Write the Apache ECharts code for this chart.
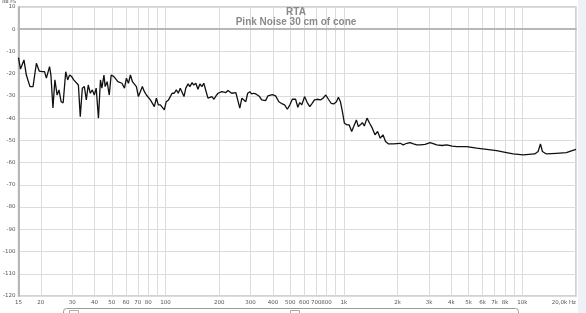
<!DOCTYPE html>
<html>
<head>
<meta charset="utf-8">
<script src="https://cdn.jsdelivr.net/npm/echarts@6/dist/echarts.min.js"></script>
<style>html,body{margin:0;padding:0;background:#fff;}#c{width:586px;height:313px;}</style>
</head>
<body>
<div id="c"></div>
<script>
const titleText = 'RTA';
const subtitleText = 'Pink Noise 30 cm of cone';
const yUnit = 'dB FS';
const xLabelValues = [15,20,30,40,50,60,70,80,100,200,300,400,500,600,700,800,1000,2000,3000,4000,5000,6000,7000,8000,10000,20000];
const xLabelTexts = ['15','20','30','40','50','60','70','80','100','200','300','400','500','600','700','800','1k','2k','3k','4k','5k','6k','7k','8k','10k','20,0k Hz'];
const xGridValues = [20,30,40,50,60,70,80,90,100,200,300,400,500,600,700,800,900,1000,2000,3000,4000,5000,6000,7000,8000,9000,10000,20000];
const freqHz = [15,15.4,16.1,16.6,17.4,18.1,18.9,19.6,20.4,21.0,21.5,22.4,22.8,23.4,24.0,24.7,25.3,26.0,26.7,27.6,28.3,29.0,29.8,30.6,31.3,32.5,33.3,34.2,35.1,36.0,36.9,37.9,38.9,39.9,40.9,42.1,43.2,44.0,45.2,45.9,47.1,48.4,49.6,51.4,52.7,54.1,55.5,57.0,58.9,60.4,62.0,63.6,65.3,67.0,68.7,70.5,72.3,74.2,76.2,78.2,80.2,82.3,84.4,86.6,88.9,91.2,93.6,96.0,98.5,101,104,106,109,112,115,118,121,124,127,130,134,137,141,144,148,152,156,160,164,168,173,177,182,187,192,197,202,207,212,218,224,229,235,241,248,254,261,268,275,282,289,297,304,312,321,329,337,346,355,364,375,397,414,432,452,465,482,498,514,536,552,566,581,602,623,644,664,684,709,739,765,792,819,848,877,908,932,956,981,1007,1042,1070,1106,1135,1175,1205,1237,1269,1302,1348,1394,1443,1494,1545,1599,1656,1712,1780,1899,2069,2150,2255,2350,2456,2560,2676,2850,3045,3317,3550,3774,4050,4292,4880,5550,6310,7180,8160,8890,10110,11740,12260,12640,12970,13650,15530,17660,18840,19220,20000];
const levelDb = [-12.8,-17.9,-13.8,-20.6,-25.8,-25.8,-15.3,-18.8,-19.1,-19.1,-22.0,-16.8,-20.6,-35.4,-22.8,-29.6,-27.3,-32.6,-33.1,-19.1,-22.8,-20.6,-21.3,-22.8,-23.6,-25.1,-39.3,-26.5,-25.8,-31.8,-25.1,-28.8,-27.3,-29.6,-26.5,-40.0,-22.8,-26.5,-20.6,-25.8,-23.6,-29.6,-20.6,-21.3,-22.0,-23.6,-23.3,-24.3,-26.5,-22.0,-24.3,-20.6,-23.6,-22.8,-25.8,-30.3,-28.1,-25.8,-28.1,-29.6,-28.8,-31.8,-32.6,-34.8,-31.0,-34.0,-34.0,-34.8,-36.3,-32.6,-31.8,-32.6,-28.8,-28.8,-27.3,-28.8,-26.5,-26.5,-30.3,-26.5,-24.6,-25.8,-24.0,-25.1,-24.3,-27.0,-24.6,-25.8,-24.3,-25.1,-31.0,-31.8,-30.3,-31.5,-30.0,-28.8,-29.6,-28.1,-27.3,-28.5,-27.6,-28.1,-28.8,-29.1,-28.5,-29.1,-35.5,-31.0,-30.3,-32.6,-28.8,-28.1,-29.1,-28.8,-29.1,-29.6,-30.3,-31.8,-32.6,-32.1,-30.0,-29.4,-30.0,-32.6,-33.6,-34.0,-36.0,-34.0,-31.5,-31.5,-35.1,-33.0,-34.0,-30.3,-33.0,-34.8,-33.3,-31.8,-31.5,-31.8,-31.0,-29.6,-31.5,-33.3,-33.6,-32.6,-30.6,-32.6,-37.1,-42.3,-43.0,-43.0,-46.0,-43.8,-40.8,-43.8,-43.0,-42.0,-43.5,-40.0,-42.3,-44.5,-47.5,-46.0,-49.0,-47.5,-50.5,-51.6,-51.6,-51.3,-52.0,-51.3,-51.0,-51.6,-52.0,-52.0,-51.8,-51.0,-52.0,-52.3,-52.0,-52.6,-52.8,-52.8,-53.5,-54.0,-54.6,-55.5,-56.1,-56.5,-56.1,-55.0,-51.6,-55.0,-56.1,-55.8,-55.5,-54.7,-54.3,-54.0];

const seriesData = freqHz.map((f, i) => [f, levelDb[i]]);
const labelMap = {};
xLabelValues.forEach((v, i) => { labelMap[v] = xLabelTexts[i]; });

const chart = echarts.init(document.getElementById('c'), null, {renderer: 'canvas'});
chart.setOption({
  animation: false,
  backgroundColor: '#ffffff',
  title: {
    text: titleText,
    subtext: subtitleText,
    left: 291,
    top: 2,
    textAlign: 'center',
    itemGap: 0,
    textStyle: {fontFamily: 'Liberation Sans', fontSize: 10, fontWeight: 'bold', color: '#8a8a8a'},
    subtextStyle: {fontFamily: 'Liberation Sans', fontSize: 10, fontWeight: 'bold', color: '#8a8a8a'}
  },
  grid: {left: 17, right: 10, top: 7, bottom: 17, show: true, borderColor: '#c4c4c4', borderWidth: 1.5, backgroundColor: '#fff'},
  xAxis: {
    type: 'log',
    logBase: 10,
    min: 15,
    max: 20000,
    axisLine: {show: true, lineStyle: {color: '#b8b8b8', width: 2}},
    axisTick: {show: false, customValues: xGridValues},
    splitLine: {show: true, lineStyle: {color: '#dcdcdc', width: 1}},
    minorSplitLine: {show: false},
    axisLabel: {
      customValues: xLabelValues,
      fontSize: 5.5,
      fontFamily: 'DejaVu Sans',
      color: '#555',
      margin: 4,
      alignMaxLabel: 'right',
      formatter: v => labelMap[Math.round(v)] || ''
    }
  },
  yAxis: {
    type: 'value',
    min: -120,
    max: 10,
    interval: 10,
    axisLine: {show: true, lineStyle: {color: '#b8b8b8', width: 2}},
    axisTick: {show: false},
    splitLine: {show: true, lineStyle: {color: '#dcdcdc', width: 1}},
    axisLabel: {fontSize: 5.5, fontFamily: 'DejaVu Sans', color: '#555', margin: 3}
  },
  graphic: [
    {type: 'text', left: 2, top: -1, style: {text: yUnit, fontSize: 5, fontFamily: 'DejaVu Sans', fill: '#555'}},
    {type: 'rect', left: 578, top: 0, shape: {width: 8, height: 313}, style: {fill: '#eef1f5'}},
    {type: 'rect', left: 63, top: 308, shape: {x: 0, y: 0, width: 455, height: 20, r: 3}, style: {fill: '#fff', stroke: '#9a9a9a', lineWidth: 1}},
    {type: 'rect', left: 69, top: 310, shape: {width: 9, height: 9}, style: {fill: '#fff', stroke: '#aaa', lineWidth: 1}},
    {type: 'rect', left: 290, top: 310, shape: {width: 9, height: 9}, style: {fill: '#fff', stroke: '#aaa', lineWidth: 1}}
  ],
  series: [{
    type: 'line',
    data: seriesData,
    showSymbol: false,
    symbol: 'none',
    lineStyle: {color: '#111', width: 1.3},
    clip: true
  }]
});
</script>
</body>
</html>
